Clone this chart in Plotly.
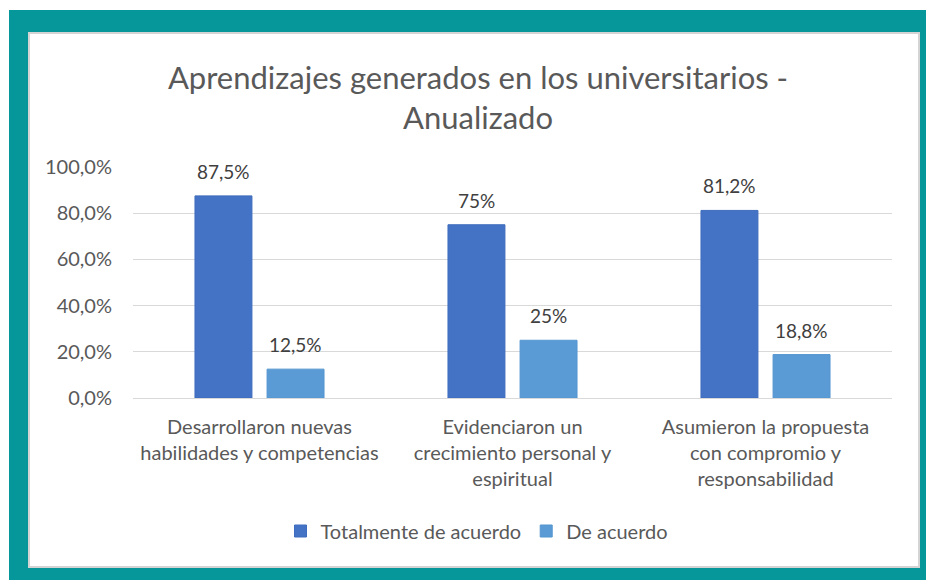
import plotly.graph_objects as go

categories = [
    "Desarrollaron nuevas<br>habilidades y competencias",
    "Evidenciaron un<br>crecimiento personal y<br>espiritual",
    "Asumieron la propuesta<br>con compromio y<br>responsabilidad",
]
totalmente = [87.5, 75, 81.2]
totalmente_text = ["87,5%", "75%", "81,2%"]
de_acuerdo = [12.5, 25, 18.8]
de_acuerdo_text = ["12,5%", "25%", "18,8%"]
y_ticks = [0, 20, 40, 60, 80, 100]
y_tick_text = ["0,0%", "20,0%", "40,0%", "60,0%", "80,0%", "100,0%"]

W, H = 926, 580
L, R, T, B = 133, 892, 167, 398  # plot area in pixels


def px_x(px):
    return (px - L) / (R - L)


def px_y(py):
    return (B - py) / (B - T)


FONT = "Lato"
GREY = "#595959"

fig = go.Figure()
fig.add_trace(go.Bar(x=categories, y=totalmente, name="Totalmente de acuerdo",
                     marker=dict(color="#4472C4", line=dict(color="#3f6cbd", width=1))))
fig.add_trace(go.Bar(x=categories, y=de_acuerdo, name="De acuerdo",
                     marker=dict(color="#5B9BD5", line=dict(color="#5596d0", width=1))))

# data labels
for vals, texts, shift in [(totalmente, totalmente_text, -36), (de_acuerdo, de_acuerdo_text, 36)]:
    for c, v, t in zip(categories, vals, texts):
        fig.add_annotation(x=c, y=v, text=t, showarrow=False, xshift=shift, yshift=11,
                           yanchor="bottom", font=dict(family=FONT, size=19, color="#404040"))

# frame
fig.add_shape(type="rect", xref="paper", yref="paper", layer="below",
              x0=px_x(9), x1=px_x(940), y0=px_y(600), y1=px_y(10),
              fillcolor="#06979a", line_width=0)
fig.add_shape(type="rect", xref="paper", yref="paper", layer="below",
              x0=px_x(29), x1=px_x(919), y0=px_y(567), y1=px_y(33),
              fillcolor="white", line=dict(color="#d4d4d4", width=2))

fig.update_layout(
    width=W, height=H,
    margin=dict(l=L, r=W - R, t=T, b=H - B),
    paper_bgcolor="white", plot_bgcolor="rgba(0,0,0,0)",
    barmode="group", bargap=0.43, bargroupgap=0.21,
    title=dict(text="Aprendizajes generados en los universitarios -<br>Anualizado",
               x=478 / W, xanchor="center", y=1 - 89 / H, yanchor="middle",
               font=dict(family=FONT, size=31, color=GREY)),
    legend=dict(orientation="h", x=px_x(477), xanchor="center", y=px_y(531), yanchor="middle",
                font=dict(family=FONT, size=20, color=GREY), bgcolor="rgba(0,0,0,0)",
                itemwidth=30),
    showlegend=True,
)
fig.update_xaxes(showline=True, linecolor="#d9d9d9", linewidth=1, ticks="",
                 tickfont=dict(family=FONT, size=20, color=GREY), ticklabelstandoff=11)
fig.update_yaxes(range=[0, 100], tickmode="array", tickvals=y_ticks, ticktext=y_tick_text,
                 gridcolor="#d9d9d9", gridwidth=1, zeroline=False, showline=False,
                 tickfont=dict(family=FONT, size=20, color=GREY), ticklabelstandoff=20)

# drop the browser's default body margin so the figure fills the window
fig.write_html("out.html", config={"displayModeBar": False},
               post_script="document.body.style.margin='0';document.body.style.overflow='hidden';")
